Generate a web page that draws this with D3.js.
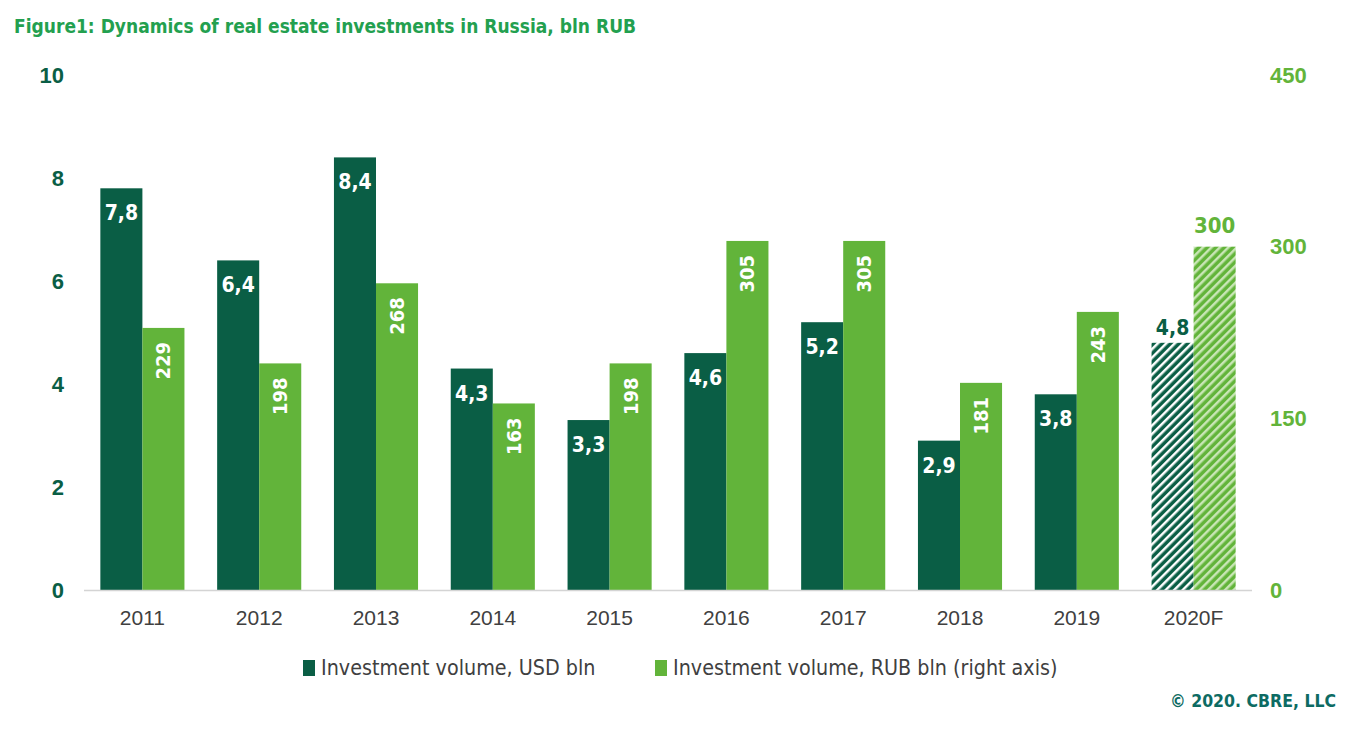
<!DOCTYPE html>
<html>
<head>
<meta charset="utf-8">
<script src="https://cdn.jsdelivr.net/npm/d3@7"></script>
<style>
  body { margin: 0; background: #fff; }
  svg { display: block; font-family: "DejaVu Sans Condensed", "DejaVu Sans", sans-serif; }
</style>
</head>
<body>
<svg id="chart" width="1360" height="740"></svg>
<script>
// data
const years = ["2011", "2012", "2013", "2014", "2015", "2016", "2017", "2018", "2019", "2020F"];
const usdBln = [7.8, 6.4, 8.4, 4.3, 3.3, 4.6, 5.2, 2.9, 3.8, 4.8];
const rubBln = [229, 198, 268, 163, 198, 305, 305, 181, 243, 300];
const leftTicks = [0, 2, 4, 6, 8, 10];
const rightTicks = [0, 150, 300, 450];
const forecast = "2020F";

const dark = "#0a5e45", light = "#62b43a", gray = "#404040";

const svg = d3.select("#chart");

// hatch patterns for the forecast year
const defs = svg.append("defs");
function hatch(id, bg, fg) {
  const p = defs.append("pattern")
    .attr("id", id).attr("patternUnits", "userSpaceOnUse")
    .attr("width", 6).attr("height", 6)
    .attr("patternTransform", "rotate(45)");
  p.append("rect").attr("width", 6).attr("height", 6).attr("fill", bg);
  p.append("rect").attr("width", 2.5).attr("height", 6).attr("fill", fg);
}
hatch("hatchDark", dark, "#ffffff");
hatch("hatchLight", light, "#c9e6b6");

// scales
const x = d3.scaleBand().domain(years).range([84, 1252]).paddingInner(0.28).paddingOuter(0.14);
const sub = d3.scaleBand().domain(["usd", "rub"]).range([0, x.bandwidth()]);
const yL = d3.scaleLinear().domain([0, 10]).range([590, 75]);
const yR = d3.scaleLinear().domain([0, 450]).range([590, 75]);

// title
svg.append("text")
  .attr("x", 14).attr("y", 33)
  .attr("fill", "#23a04f").attr("font-size", 19).attr("font-weight", "bold")
  .text("Figure1: Dynamics of real estate investments in Russia, bln RUB");

// left axis
const axL = svg.append("g").attr("transform", "translate(64,0)")
  .call(d3.axisLeft(yL).tickValues(leftTicks).tickSize(0).tickPadding(0));
axL.select(".domain").remove();
axL.selectAll("text").attr("fill", dark).attr("font-size", 22).attr("font-weight", "bold")
  .attr("font-family", "inherit");

// right axis
const axR = svg.append("g").attr("transform", "translate(1270,0)")
  .call(d3.axisRight(yR).tickValues(rightTicks).tickSize(0).tickPadding(0));
axR.select(".domain").remove();
axR.selectAll("text").attr("fill", light).attr("font-size", 22).attr("font-weight", "bold")
  .attr("font-family", "inherit");

const rows = years.map((yr, i) => ({ yr, usd: usdBln[i], rub: rubBln[i] }));

const groups = svg.append("g").selectAll("g").data(rows).join("g")
  .attr("transform", d => `translate(${x(d.yr)},0)`);

// USD bars
groups.append("rect")
  .attr("x", sub("usd")).attr("width", sub.bandwidth())
  .attr("y", d => yL(d.usd)).attr("height", d => yL(0) - yL(d.usd))
  .attr("fill", d => d.yr === forecast ? "url(#hatchDark)" : dark);

// RUB bars
groups.append("rect")
  .attr("x", sub("rub")).attr("width", sub.bandwidth())
  .attr("y", d => yR(d.rub)).attr("height", d => yR(0) - yR(d.rub))
  .attr("fill", d => d.yr === forecast ? "url(#hatchLight)" : light);

// USD labels
groups.append("text")
  .attr("x", sub("usd") + sub.bandwidth() / 2)
  .attr("y", d => d.yr === forecast ? yL(d.usd) - 8 : yL(d.usd) + 32)
  .attr("text-anchor", "middle")
  .attr("font-size", 21).attr("font-weight", "bold")
  .attr("fill", d => d.yr === forecast ? dark : "#fff")
  .text(d => d3.format(".1f")(d.usd).replace(".", ","));

// RUB labels (vertical inside, horizontal above for forecast)
groups.filter(d => d.yr !== forecast).append("text")
  .attr("transform", d => `translate(${sub("rub") + sub.bandwidth() / 2 + 7},${yR(d.rub) + 14}) rotate(-90)`)
  .attr("text-anchor", "end")
  .attr("font-size", 20).attr("font-weight", "bold").attr("fill", "#fff")
  .text(d => d.rub);
groups.filter(d => d.yr === forecast).append("text")
  .attr("x", sub("rub") + sub.bandwidth() / 2)
  .attr("y", d => yR(d.rub) - 14)
  .attr("text-anchor", "middle")
  .attr("font-size", 22).attr("font-weight", "bold").attr("fill", light)
  .text(d => d.rub);

// baseline
svg.append("line")
  .attr("x1", 84).attr("x2", 1252).attr("y1", yL(0) + 0.5).attr("y2", yL(0) + 0.5)
  .attr("stroke", "#d4d4d4").attr("stroke-width", 1.5);

// x axis
const axX = svg.append("g").attr("transform", `translate(0,${yL(0)})`)
  .call(d3.axisBottom(x).tickSize(0).tickPadding(20));
axX.select(".domain").remove();
axX.selectAll("text").attr("fill", gray).attr("font-size", 21).attr("font-family", "inherit");

// legend
const legend = [
  { label: "Investment volume, USD bln", color: dark, x: 303 },
  { label: "Investment volume, RUB bln (right axis)", color: light, x: 655 }
];
const lg = svg.append("g").selectAll("g").data(legend).join("g")
  .attr("transform", d => `translate(${d.x},660)`);
lg.append("rect").attr("width", 12).attr("height", 16).attr("fill", d => d.color);
lg.append("text").attr("x", 18).attr("y", 15)
  .attr("font-size", 21.3).attr("fill", gray).text(d => d.label);

// source
svg.append("text")
  .attr("x", 1336).attr("y", 707).attr("text-anchor", "end")
  .attr("font-size", 17.5).attr("font-weight", "bold").attr("fill", "#0d6b63")
  .text("© 2020. CBRE, LLC");
</script>
</body>
</html>
